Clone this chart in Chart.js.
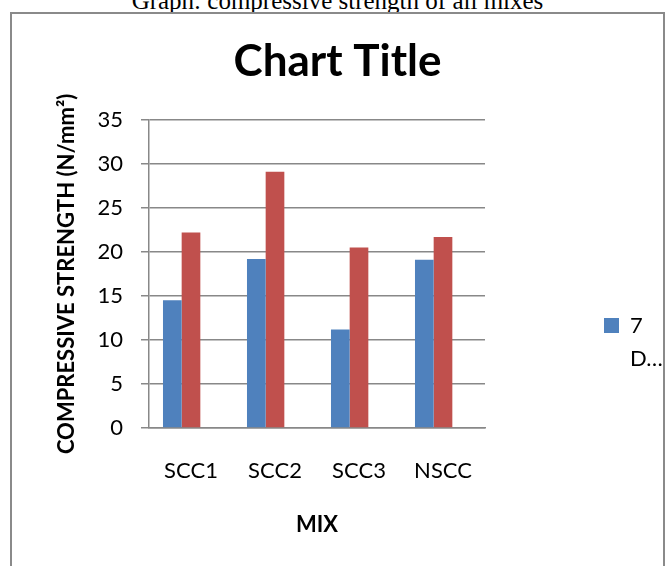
<!DOCTYPE html>
<html>
<head>
<meta charset="utf-8">
<script src="https://cdn.jsdelivr.net/npm/chart.js@4.4.1/dist/chart.umd.min.js"></script>
<style>
    html, body { margin: 0; padding: 0; background: #fff; overflow: hidden; }
    body { width: 671px; height: 566px; position: relative; }
    .caption {
        position: absolute; left: 0; top: -12px; width: 675px;
        text-align: center; font: 25px/25px "Liberation Serif", "Times New Roman", serif; color: #000;
    }
    .frame {
        position: absolute; left: 10px; top: 12px;
        width: 651px; height: 667px;
        border: 2px solid #8a8a8a;
    }
    canvas { display: block; }
</style>
</head>
<body>
<div class="caption">Graph: compressive strength of all mixes</div>
<div class="frame"><canvas id="strengthChart" width="651" height="667"></canvas></div>

<script>
// ─── Data ────────────────────────────────────────────────────────────────
const mixes        = ['SCC1', 'SCC2', 'SCC3', 'NSCC'];
const seriesNames  = ['7 DAYS', '28 DAYS', 'Series3'];
const days7        = [14.5, 19.2, 11.2, 19.1];
const days28       = [22.2, 29.1, 20.5, 21.7];
const series3      = [null, null, null, null];   // empty third series in the source sheet
const legendLines  = ['7', 'D…'];                // legend entry as it is truncated in the picture
const yTicks       = [0, 5, 10, 15, 20, 25, 30, 35];

// ─── Look ────────────────────────────────────────────────────────────────
const FONT     = 'Lato, "Open Sans", sans-serif';
const GREY     = '#888888';
const COLORS   = ['#4F81BD', '#C0504D', '#9BBB59'];

const ctx = document.getElementById('strengthChart').getContext('2d');

new Chart(ctx, {
    type: 'bar',
    data: {
        labels: mixes,
        datasets: [days7, days28, series3].map((values, i) => ({
            label: seriesNames[i],
            data: values,
            backgroundColor: COLORS[i],
            borderWidth: 0,
            categoryPercentage: 0.667,
            barPercentage: 1.0
        }))
    },
    options: {
        responsive: false,
        animation: false,
        layout: { padding: { top: 0, left: 0, right: 0, bottom: 0 } },
        plugins: {
            title: {
                display: true,
                text: 'Chart Title',
                color: '#000',
                font: { family: FONT, size: 44, weight: 'bold', lineHeight: 1.2 },
                padding: { top: 21, bottom: 32 }
            },
            legend: {
                position: 'right',
                maxWidth: 69,
                labels: {
                    color: '#000',
                    boxWidth: 15,
                    boxHeight: 15,
                    padding: 10,
                    font: { family: FONT, size: 22, lineHeight: 1.5 },
                    filter: (item) => item.datasetIndex === 0,
                    generateLabels: (chart) => {
                        const items = Chart.defaults.plugins.legend.labels.generateLabels(chart);
                        items.forEach(it => {
                            it.lineWidth = 0;
                            if (it.datasetIndex === 0) it.text = legendLines;
                        });
                        return items;
                    }
                }
            },
            tooltip: { enabled: false }
        },
        scales: {
            x: {
                grid: { display: false, drawTicks: false, tickLength: 0 },
                border: { display: true, color: GREY, width: 1.5 },
                ticks: {
                    color: '#000',
                    padding: 30,
                    font: { family: FONT, size: 22 }
                },
                title: {
                    display: true,
                    text: 'MIX',
                    color: '#000',
                    font: { family: FONT, size: 22, weight: 'bold' },
                    padding: { top: 0, bottom: 143 }
                },
                afterFit: (scale) => { scale.height = 253; }
            },
            y: {
                min: 0,
                max: 35,
                afterBuildTicks: (scale) => { scale.ticks = yTicks.map(v => ({ value: v })); },
                grid: { color: GREY, lineWidth: 1.5, tickLength: 8, drawTicks: true },
                border: { display: true, color: GREY, width: 1.5 },
                ticks: {
                    color: '#000',
                    padding: 18,
                    font: { family: FONT, size: 22 }
                },
                title: {
                    display: true,
                    text: 'COMPRESSIVE STRENGTH (N/mm²)',
                    color: '#000',
                    font: { family: FONT, size: 22, weight: 'bold' },
                    padding: { top: 42, bottom: 0 }
                },
                afterFit: (scale) => { scale.width = 137; }
            },
            // empty spacer between plot area and legend
            gap: {
                position: 'right',
                display: true,
                grid: { display: false },
                border: { display: false },
                ticks: { display: false },
                afterFit: (scale) => { scale.width = 109; }
            }
        }
    }
});
</script>
</body>
</html>
